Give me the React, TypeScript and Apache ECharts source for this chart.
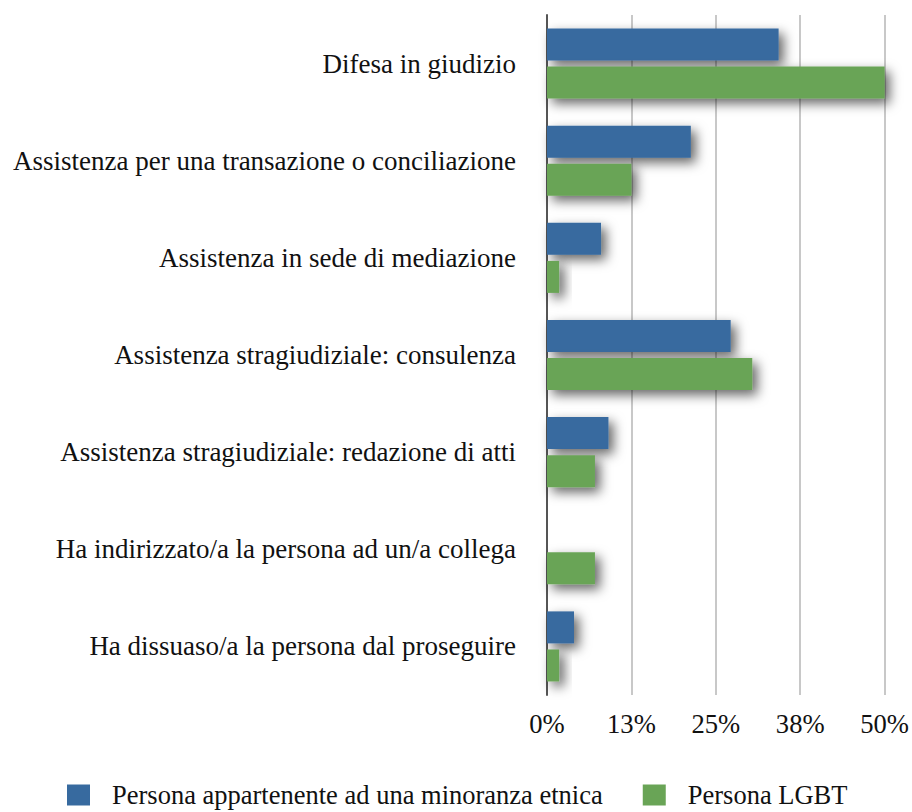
import React, { useEffect, useRef } from "react";
import * as echarts from "echarts";

const categories = [
  "Difesa in giudizio",
  "Assistenza per una transazione o conciliazione",
  "Assistenza in sede di mediazione",
  "Assistenza stragiudiziale: consulenza",
  "Assistenza stragiudiziale: redazione di atti",
  "Ha indirizzato/a la persona ad un/a collega",
  "Ha dissuaso/a la persona dal proseguire",
];
const minoranzaEtnica = [34.3, 21.3, 8.0, 27.2, 9.1, 0, 4.0];
const personaLGBT = [50.0, 12.5, 1.8, 30.4, 7.1, 7.1, 1.8];
const seriesNames = ["Persona appartenente ad una minoranza etnica", "Persona LGBT"];
const colors = ["#376a9f", "#69a456"];

const FONT = "Liberation Serif";

export default function App() {
  const ref = useRef<HTMLDivElement>(null);
  useEffect(() => {
    if (!ref.current) return;
    const chart = echarts.init(ref.current, null, { renderer: "svg" });
    const shadow = {
      shadowBlur: 12,
      shadowOffsetX: 5,
      shadowOffsetY: 5,
      shadowColor: "rgba(0,0,0,0.6)",
    };
    chart.setOption({
      animation: false,
      backgroundColor: "#ffffff",
      textStyle: { fontFamily: FONT },
      grid: { left: 547, right: 24, top: 15, bottom: 117, containLabel: false },
      legend: {
        top: 781,
        left: 67,
        padding: 0,
        itemWidth: 23,
        itemHeight: 21,
        itemGap: 40,
        icon: "rect",
        textStyle: {
          fontFamily: FONT,
          fontSize: 26.5,
          lineHeight: 28,
          color: "#111",
          padding: [0, 0, 0, 17],
        },
        data: seriesNames,
      },
      xAxis: {
        type: "value",
        min: 0,
        max: 50,
        interval: 12.5,
        axisLine: { show: false },
        axisTick: { show: false },
        splitLine: { show: true, lineStyle: { color: "#c8c8c8", width: 2 } },
        axisLabel: {
          formatter: (v: number) => Math.round(v) + "%",
          fontFamily: FONT,
          fontSize: 26.6,
          color: "#111",
          margin: 15,
        },
      },
      yAxis: {
        type: "category",
        inverse: true,
        data: categories,
        axisLine: { show: true, lineStyle: { color: "#555", width: 2 } },
        axisTick: { show: false },
        axisLabel: {
          fontFamily: FONT,
          fontSize: 27,
          color: "#111",
          margin: 31,
        },
      },
      series: [
        {
          name: seriesNames[0],
          type: "bar",
          data: minoranzaEtnica,
          barWidth: 32,
          barGap: "19%",
          itemStyle: { color: colors[0], ...shadow },
        },
        {
          name: seriesNames[1],
          type: "bar",
          data: personaLGBT,
          barWidth: 32,
          barGap: "19%",
          itemStyle: { color: colors[1], ...shadow },
        },
      ],
    });
    return () => chart.dispose();
  }, []);
  return (
    <div
      ref={ref}
      style={{ position: "fixed", left: 0, top: 0, width: 912, height: 812 }}
    />
  );
}
